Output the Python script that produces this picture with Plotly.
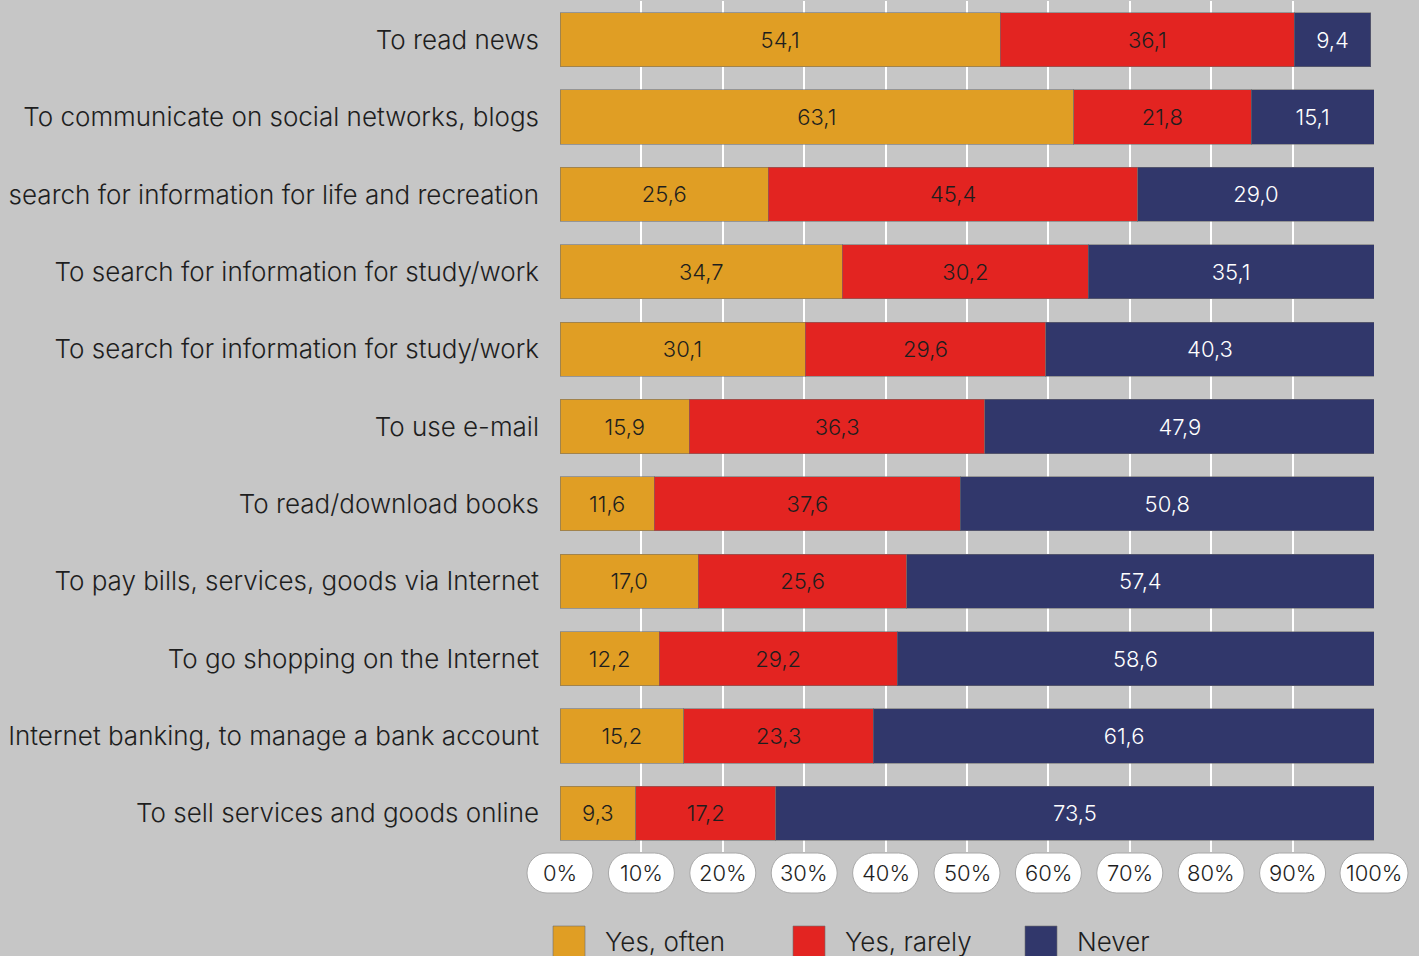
import plotly.graph_objects as go

# Survey rows (top to bottom) and the share of answers per row, in %
categories = [
    "To read news",
    "To communicate on social networks, blogs",
    "search for information for life and recreation",
    "To search for information for study/work",
    "To search for information for study/work",
    "To use e-mail",
    "To read/download books",
    "To pay bills, services, goods via Internet",
    "To go shopping on the Internet",
    "Internet banking, to manage a bank account",
    "To sell services and goods online",
]
often = [54.1, 63.1, 25.6, 34.7, 30.1, 15.9, 11.6, 17.0, 12.2, 15.2, 9.3]
rarely = [36.1, 21.8, 45.4, 30.2, 29.6, 36.3, 37.6, 25.6, 29.2, 23.3, 17.2]
never = [9.4, 15.1, 29.0, 35.1, 40.3, 47.9, 50.8, 57.4, 58.6, 61.6, 73.5]

series_names = ["Yes, often", "Yes, rarely", "Never"]
series_values = [often, rarely, never]
colors = ["#E09E24", "#E32421", "#31376B"]
text_colors = ["#1e1e1e", "#1e1e1e", "#ffffff"]

tick_vals = list(range(0, 101, 10))
tick_labels = [f"{v}%" for v in tick_vals]

W, H = 1419, 956
ML, MR, MT, MB = 560, 45, 1, 104
PW, PH = W - ML - MR, H - MT - MB
BG = "#c6c6c6"
FONT = "Inter"
WEIGHT = 300
X_MAX = 100


def px_x(px):
    return (px - ML) / PW


def px_y(py):
    return (H - MB - py) / PH


def fmt(v):
    return f"{v:.1f}".replace(".", ",")


rows = list(range(len(categories)))

fig = go.Figure()
for name, vals, col, tcol in zip(series_names, series_values, colors, text_colors):
    fig.add_trace(go.Bar(
        y=rows, x=vals, name=name, orientation="h",
        marker=dict(color=col, line=dict(color="rgba(110,110,110,0.55)", width=1)),
        text=[fmt(v) for v in vals],
        textposition="inside", insidetextanchor="middle", textangle=0,
        constraintext="none",
        textfont=dict(family=FONT, size=22, color=tcol, weight=WEIGHT),
        showlegend=False, hoverinfo="skip",
    ))


# rounded "pill" behind each percentage tick label
def pill_path(hw=33, top=-1, bottom=-41, r=20, k=0.5523):
    x0, x1 = -hw, hw
    return (
        f"M {x0 + r},{top} L {x1 - r},{top} "
        f"C {x1 - r + k * r},{top} {x1},{top - r + k * r} {x1},{top - r} "
        f"L {x1},{bottom + r} "
        f"C {x1},{bottom + r - k * r} {x1 - r + k * r},{bottom} {x1 - r},{bottom} "
        f"L {x0 + r},{bottom} "
        f"C {x0 + r - k * r},{bottom} {x0},{bottom + r - k * r} {x0},{bottom + r} "
        f"L {x0},{top - r} "
        f"C {x0},{top - r + k * r} {x0 + r - k * r},{top} {x0 + r},{top} Z"
    )


shapes = []
annotations = []
for v, lab in zip(tick_vals, tick_labels):
    shapes.append(dict(
        type="path", xref="paper", yref="paper", xsizemode="pixel", ysizemode="pixel",
        xanchor=v / X_MAX, yanchor=0, path=pill_path(hw=34 if v == 100 else 33),
        fillcolor="white", line=dict(color="#a8a8a8", width=1), layer="above",
    ))
    annotations.append(dict(
        x=v, xref="x", y=0, yref="paper", yshift=-21, yanchor="middle",
        text=lab, showarrow=False,
        font=dict(family=FONT, size=22, color="#1e1e1e", weight=WEIGHT),
    ))

# legend drawn as large swatches below the axis
legend_x = [553, 793, 1025]
for name, col, lx in zip(series_names, colors, legend_x):
    shapes.append(dict(
        type="rect", xref="paper", yref="paper",
        x0=px_x(lx), x1=px_x(lx + 32), y0=px_y(960), y1=px_y(926),
        fillcolor=col, line=dict(color="rgba(110,110,110,0.6)", width=1),
    ))
    annotations.append(dict(
        x=px_x(lx + 50), xref="paper", xanchor="left",
        y=px_y(941), yref="paper", yanchor="middle",
        text=name, showarrow=False,
        font=dict(family=FONT, size=26, color="#1e1e1e", weight=WEIGHT),
    ))

fig.update_layout(
    width=W, height=H,
    margin=dict(l=ML, r=MR, t=MT, b=MB),
    paper_bgcolor=BG, plot_bgcolor=BG,
    barmode="stack", bargap=0.30,
    font=dict(family=FONT, color="#1e1e1e"),
    shapes=shapes, annotations=annotations,
    xaxis=dict(
        range=[0, X_MAX], tickvals=tick_vals, showticklabels=False,
        showgrid=True, gridcolor="white", gridwidth=2,
        zeroline=False, showline=False, ticks="", fixedrange=True,
    ),
    yaxis=dict(
        range=[10.5, -0.5], tickvals=rows, ticktext=categories,
        showgrid=False, zeroline=False, showline=False, ticks="",
        ticklabelstandoff=20,
        tickfont=dict(family=FONT, size=26, color="#1e1e1e", weight=WEIGHT),
    ),
)

fig.write_html("out.html")
